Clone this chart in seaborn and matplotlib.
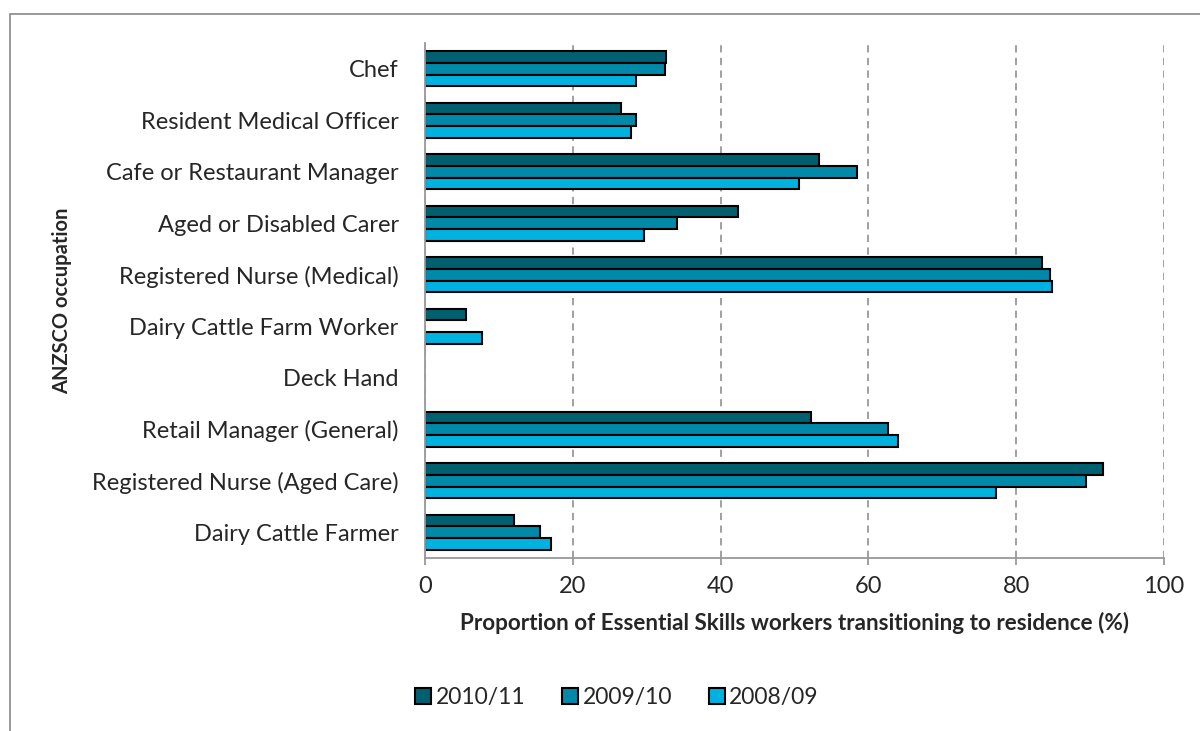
import numpy as np
import pandas as pd
import matplotlib
matplotlib.use("Agg")
import matplotlib.pyplot as plt
from matplotlib.patches import Rectangle
import seaborn as sns

# Occupations, top to bottom as in the chart
occupations = [
    "Chef",
    "Resident Medical Officer",
    "Cafe or Restaurant Manager",
    "Aged or Disabled Carer",
    "Registered Nurse (Medical)",
    "Dairy Cattle Farm Worker",
    "Deck Hand",
    "Retail Manager (General)",
    "Registered Nurse (Aged Care)",
    "Dairy Cattle Farmer",
]
years = ["2010/11", "2009/10", "2008/09"]

# Proportion transitioning to residence (%), NaN = no bar shown
share_2010_11 = [32.6, 26.5, 53.3, 42.3, 83.5, 5.5, np.nan, 52.2, 91.7, 12.1]
share_2009_10 = [32.5, 28.6, 58.5, 34.1, 84.6, np.nan, np.nan, 62.7, 89.4, 15.6]
share_2008_09 = [28.5, 27.9, 50.6, 29.6, 84.9, 7.7, np.nan, 64.0, 77.2, 17.1]

colors = ["#00606F", "#0089A8", "#00B2E0"]

rows = []
for year, vals in zip(years, [share_2010_11, share_2009_10, share_2008_09]):
    for occ, v in zip(occupations, vals):
        rows.append({"occupation": occ, "year": year, "share": v})
df = pd.DataFrame(rows).dropna()

sns.set_style("white")
plt.rcParams["font.family"] = ["Lato", "DejaVu Sans"]

fig = plt.figure(figsize=(12, 7.31), dpi=100)
ax = fig.add_axes([0.3542, 0.2367, 0.6158, 0.7045])

sns.barplot(
    data=df, x="share", y="occupation", hue="year",
    order=occupations, hue_order=years, palette=colors, saturation=1,
    orient="h", width=0.68, edgecolor="black", linewidth=1.5,
    errorbar=None, ax=ax, legend=True,
)

ax.set_xlim(0, 100)
ax.set_xticks(np.arange(0, 101, 20))
ax.grid(axis="x", color="#999999", linestyle=(0, (4, 3)), linewidth=1.3)
ax.grid(axis="y", visible=False)
ax.set_axisbelow(True)

for side in ["top", "right"]:
    ax.spines[side].set_visible(False)
for side in ["left", "bottom"]:
    ax.spines[side].set_color("#999999")
    ax.spines[side].set_linewidth(1.3)

ax.tick_params(axis="x", which="major", direction="out", length=5, width=1.3,
               color="#999999", labelsize=17, pad=8, bottom=True)
ax.tick_params(axis="y", length=0, labelsize=17, pad=19)

ax.set_xlabel("Proportion of Essential Skills workers transitioning to residence (%)",
              fontsize=16.2, fontweight="bold", labelpad=11)
ax.set_ylabel("ANZSCO occupation", fontsize=14.5, fontweight="bold")
ax.yaxis.set_label_coords(-0.478, 0.5)

handles, labels = ax.get_legend_handles_labels()
ax.get_legend().remove()
fig.legend(handles, labels, loc="center", bbox_to_anchor=(0.514, 0.046), ncol=3,
           frameon=False, fontsize=16.5, handlelength=0.7, handleheight=0.7,
           handletextpad=0.2, columnspacing=1.6)

# outer chart frame (cropped on right and bottom)
fig.patches.append(Rectangle((10 / 1200, -0.1), 1.2, 1.1 - 14 / 731,
                             transform=fig.transFigure, fill=False,
                             edgecolor="#888888", linewidth=1.2, clip_on=False))

fig.savefig("out.png", dpi=100)
